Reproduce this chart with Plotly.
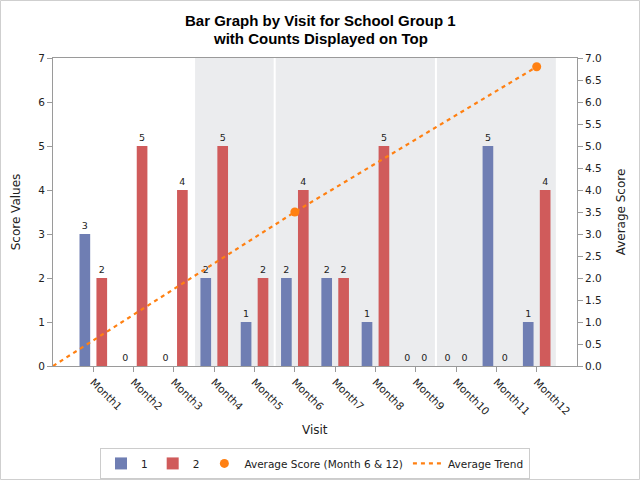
import plotly.graph_objects as go

months = [f"Month{i}" for i in range(1, 13)]
month_pos = list(range(1, 13))
group1 = [3, 0, 0, 2, 1, 2, 2, 1, 0, 0, 5, 1]
group2 = [2, 5, 4, 5, 2, 4, 2, 5, 0, 0, 0, 4]
avg_x = [6, 12]
avg_y = [3.5, 6.8]
trend_x = [0, 6, 12]
trend_y = [0, 3.5, 6.8]
bands = [(3.5, 5.5), (5.5, 9.5), (9.5, 12.5)]
title_lines = ["Bar Graph by Visit for School Group 1", "with Counts Displayed on Top"]

BLUE = "#6F7EB3"
RED = "#D05B5B"
ORANGE = "#FF8012"
AX = "#9a9a9a"
FONT = "DejaVu Sans"

fig = go.Figure()
fig.add_trace(go.Bar(x=month_pos, y=group1, name="1", marker_color=BLUE,
                     marker_line_width=0, text=group1, textposition="outside",
                     textfont=dict(size=9.5, color="#222"), cliponaxis=False))
fig.add_trace(go.Bar(x=month_pos, y=group2, name="2", marker_color=RED,
                     marker_line_width=0, text=group2, textposition="outside",
                     textfont=dict(size=9.5, color="#222"), cliponaxis=False))
fig.add_trace(go.Scatter(x=avg_x, y=avg_y, yaxis="y2", mode="markers",
                         name="Average Score (Month 6 & 12)",
                         marker=dict(color=ORANGE, size=9)))
fig.add_trace(go.Scatter(x=trend_x, y=trend_y, yaxis="y2", mode="lines",
                         name="Average Trend",
                         line=dict(color=ORANGE, width=2.2, dash="4px,4px")))

shapes = []
for a, b in bands:
    shapes.append(dict(type="rect", xref="x", yref="paper", x0=a + 0.025, x1=b - 0.025,
                       y0=0, y1=1, fillcolor="#EBECEE", line_width=0, layer="below"))
# outer frame
pw, ph = 524, 308
shapes.append(dict(type="rect", xref="paper", yref="paper",
                   x0=-52.5 / pw, x1=586.5 / pw, y0=-113.5 / ph, y1=1 + 57.5 / ph,
                   line=dict(color="#cfcfcf", width=1), fillcolor="rgba(0,0,0,0)"))

annotations = []
for i, (line, py) in enumerate(zip(title_lines, [20, 38])):
    annotations.append(dict(text=line, xref="paper", yref="paper",
                            x=(320 - 53) / pw, y=1 + (58 - py) / ph,
                            xanchor="center", yanchor="middle", showarrow=False,
                            font=dict(family="Liberation Sans", size=15, color="black",
                                      weight="bold")))
annotations.append(dict(text="Visit", xref="paper", yref="paper", x=0.5,
                        y=(366 - 430) / ph, xanchor="center", yanchor="middle",
                        showarrow=False, font=dict(size=12, color="#222")))

fig.update_layout(
    width=640, height=480,
    margin=dict(l=53, r=63, t=58, b=114, autoexpand=False),
    paper_bgcolor="white", plot_bgcolor="white",
    font=dict(family=FONT, size=11, color="#222"),
    barmode="group", bargap=0.16, bargroupgap=0.37,
    showlegend=True,
    legend=dict(orientation="h", x=0.5, xanchor="center", y=-0.266, yanchor="top",
                bordercolor="#cccccc", borderwidth=1, font=dict(size=10.5),
                itemwidth=30, traceorder="normal"),
    shapes=shapes,
    annotations=annotations,
    xaxis=dict(range=[0, 13], tickmode="array", tickvals=month_pos, ticktext=months,
               tickangle=45, ticks="outside", ticklen=5, tickcolor=AX,
               showline=True, linecolor=AX, mirror=True, showgrid=False, zeroline=False,
               automargin=False, tickfont=dict(size=10.5)),
    yaxis=dict(range=[0, 7], dtick=1, ticks="outside", ticklen=5, tickcolor=AX,
               showline=True, linecolor=AX, showgrid=False, zeroline=False,
               automargin=False,
               title=dict(text="Score Values", font=dict(size=12)),
               tickfont=dict(size=10.5)),
    yaxis2=dict(range=[0, 7], dtick=0.5, tickformat=".1f", overlaying="y", side="right",
                ticks="outside", ticklen=5, tickcolor=AX, showline=True, linecolor=AX,
                showgrid=False, zeroline=False, automargin=False,
                title=dict(text="Average Score", font=dict(size=12)),
                tickfont=dict(size=10.5)),
)

fig.write_html("out.html")
